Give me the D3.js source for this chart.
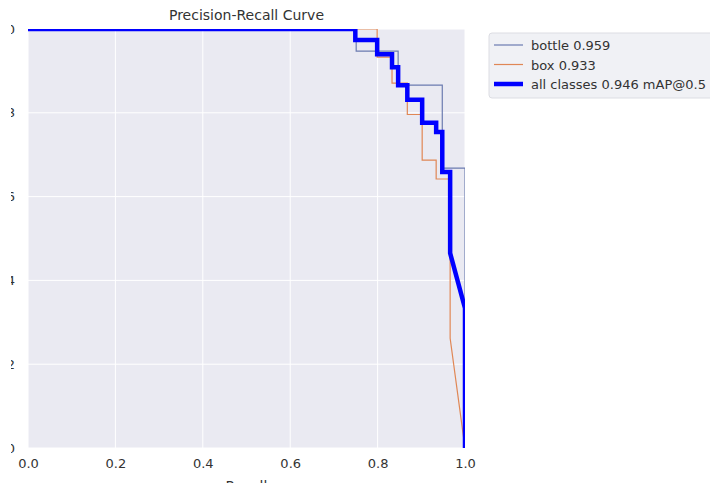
<!DOCTYPE html>
<html>
<head>
<meta charset="utf-8">
<script src="https://cdn.jsdelivr.net/npm/d3@7"></script>
<style>
  body { margin: 0; background: #fff; }
  svg { display: block; font-family: "DejaVu Sans", sans-serif; }
</style>
</head>
<body>
<div id="chart"></div>
<script>
// values
const bottleRecall    = [0, 0.751, 0.751, 0.847, 0.847, 0.948, 0.948, 1.0, 1.0];
const bottlePrecision = [1, 1, 0.947, 0.947, 0.866, 0.866, 0.668, 0.668, 0];

const boxRecall    = [0, 0.799, 0.799, 0.833, 0.833, 0.868, 0.868, 0.902, 0.902, 0.934, 0.934, 0.966, 0.966, 1.0];
const boxPrecision = [1, 1, 0.933, 0.933, 0.871, 0.871, 0.796, 0.796, 0.687, 0.687, 0.642, 0.642, 0.262, 0];

const allRecall    = [0, 0.749, 0.749, 0.799, 0.799, 0.833, 0.833, 0.847, 0.847, 0.868, 0.868, 0.902, 0.902, 0.934, 0.934, 0.948, 0.948, 0.966, 0.966, 1.0, 1.0];
const allPrecision = [1, 1, 0.974, 0.974, 0.940, 0.940, 0.909, 0.909, 0.866, 0.866, 0.831, 0.831, 0.776, 0.776, 0.754, 0.754, 0.659, 0.659, 0.465, 0.334, 0];

const ticks = [0, 0.2, 0.4, 0.6, 0.8, 1.0];
const seriesNames = ['bottle 0.959', 'box 0.933', 'all classes 0.946 mAP@0.5'];

const width = 710, height = 483;
const plot = { left: 28, right: 465, top: 29, bottom: 448 };

const svg = d3.select('#chart').append('svg')
  .attr('width', width)
  .attr('height', height);

const x = d3.scaleLinear().domain([0, 1]).range([plot.left, plot.right]);
const y = d3.scaleLinear().domain([0, 1]).range([plot.bottom, plot.top]);

const defs = svg.append('defs');
defs.append('clipPath').attr('id', 'clip')
  .append('rect')
  .attr('x', plot.left).attr('y', plot.top)
  .attr('width', plot.right - plot.left).attr('height', plot.bottom - plot.top);
// the reference image is cropped so only the tail of each y label shows
defs.append('clipPath').attr('id', 'yclip')
  .append('rect')
  .attr('x', -plot.left + 11).attr('y', 0)
  .attr('width', 40).attr('height', height);

svg.append('rect')
  .attr('x', plot.left).attr('y', plot.top)
  .attr('width', plot.right - plot.left).attr('height', plot.bottom - plot.top)
  .attr('fill', '#eaeaf2');

// grid
const grid = svg.append('g').attr('stroke', '#fff').attr('stroke-width', 1);
grid.selectAll('.gx').data(ticks).join('line')
  .attr('x1', d => x(d)).attr('x2', d => x(d))
  .attr('y1', plot.top).attr('y2', plot.bottom);
grid.selectAll('.gy').data(ticks).join('line')
  .attr('y1', d => y(d)).attr('y2', d => y(d))
  .attr('x1', plot.left).attr('x2', plot.right);

// axes (labels only, no lines)
const xAxis = svg.append('g')
  .attr('transform', `translate(0,${plot.bottom})`)
  .call(d3.axisBottom(x).tickValues(ticks).tickFormat(d3.format('.1f')).tickSize(0).tickPadding(11));
const yAxis = svg.append('g')
  .attr('transform', `translate(${plot.left},0)`)
  .attr('clip-path', 'url(#yclip)')
  .call(d3.axisLeft(y).tickValues(ticks).tickFormat(d3.format('.1f')).tickSize(0).tickPadding(13));
[xAxis, yAxis].forEach(a => {
  a.select('.domain').remove();
  a.selectAll('text').attr('fill', '#333').style('font-size', '13px')
    .style('font-family', '"DejaVu Sans", sans-serif');
});

const series = [
  { name: seriesNames[0], rx: bottleRecall, py: bottlePrecision, color: '#6b7bb0', w: 1.2 },
  { name: seriesNames[1], rx: boxRecall, py: boxPrecision, color: '#e08755', w: 1.2 },
  { name: seriesNames[2], rx: allRecall, py: allPrecision, color: '#0000ff', w: 4.5 }
];

const line = d3.line().x(d => x(d[0])).y(d => y(d[1]));

svg.append('g').attr('clip-path', 'url(#clip)')
  .selectAll('path')
  .data(series)
  .join('path')
  .attr('d', s => line(s.rx.map((r, i) => [r, s.py[i]])))
  .attr('fill', 'none')
  .attr('stroke', s => s.color)
  .attr('stroke-width', s => s.w)
  .attr('stroke-linejoin', 'miter');

// title and x label
svg.append('text')
  .attr('x', (plot.left + plot.right) / 2).attr('y', 20)
  .attr('text-anchor', 'middle')
  .attr('fill', '#333')
  .style('font-size', '14px')
  .text('Precision-Recall Curve');

svg.append('text')
  .attr('x', (plot.left + plot.right) / 2).attr('y', 491)
  .attr('text-anchor', 'middle')
  .attr('fill', '#333')
  .style('font-size', '14px')
  .text('Recall');

// legend
const legend = svg.append('g').attr('transform', 'translate(489,33)');
legend.append('rect')
  .attr('width', 226).attr('height', 65).attr('rx', 3)
  .attr('fill', '#f0f1f5').attr('stroke', '#dcdde3');
const item = legend.selectAll('g.item').data(series).join('g')
  .attr('transform', (d, i) => `translate(0,${12 + i * 19.5})`);
item.append('line')
  .attr('x1', 5).attr('x2', 34)
  .attr('stroke', d => d.color)
  .attr('stroke-width', d => d.w);
item.append('text')
  .attr('x', 42).attr('y', 5)
  .attr('fill', '#333')
  .style('font-size', '13px')
  .text(d => d.name);
</script>
</body>
</html>
